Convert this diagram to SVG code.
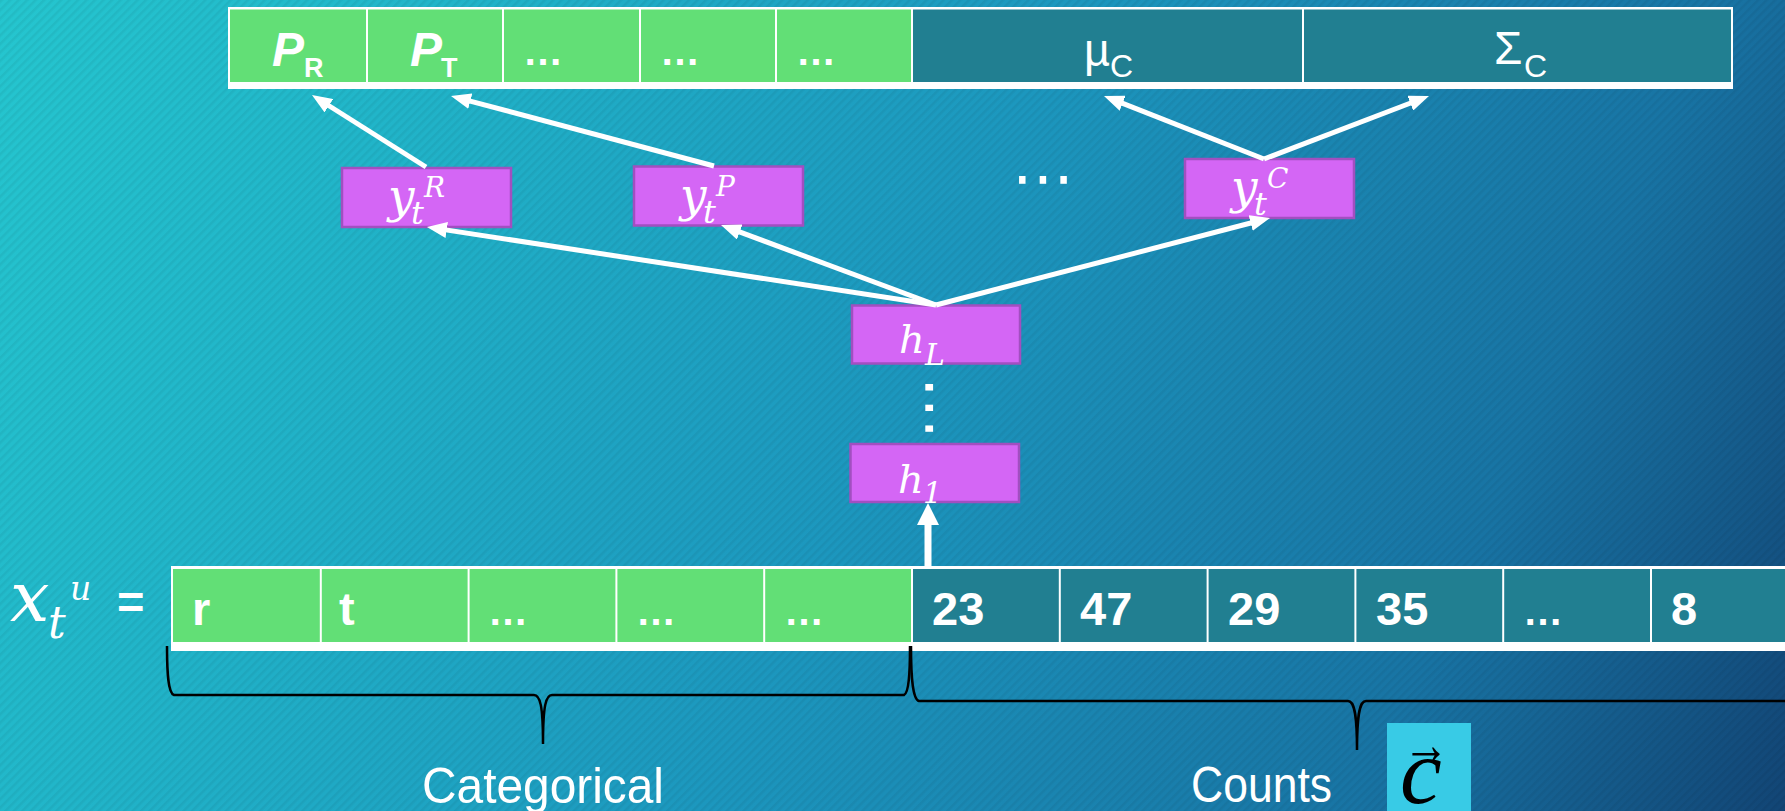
<svg xmlns="http://www.w3.org/2000/svg" width="1785" height="811" viewBox="0 0 1785 811">
  <defs>
    <linearGradient id="bg" gradientUnits="userSpaceOnUse" x1="0" y1="0" x2="1785" y2="811">
      <stop offset="0" stop-color="#25c6cf"/>
      <stop offset="0.2" stop-color="#21b5c9"/>
      <stop offset="0.5" stop-color="#1c97be"/>
      <stop offset="0.8" stop-color="#1874a4"/>
      <stop offset="1" stop-color="#124575"/>
    </linearGradient>
    <pattern id="hatch" width="6" height="6" patternUnits="userSpaceOnUse" patternTransform="rotate(-45)">
      <rect width="6" height="2.5" fill="#000" fill-opacity="0.05"/>
    </pattern>
    <marker id="head" markerUnits="userSpaceOnUse" viewBox="0 0 20 16" refX="6" refY="8" markerWidth="20" markerHeight="16" orient="auto">
      <path d="M0,0 L20,8 L0,16 z" fill="#fff"/>
    </marker>
    <marker id="headBig" markerUnits="userSpaceOnUse" viewBox="0 0 22 22" refX="4" refY="11" markerWidth="22" markerHeight="22" orient="auto">
      <path d="M0,0 L22,11 L0,22 z" fill="#fff"/>
    </marker>
    <style>
      .green { fill: #62df76; }
      .teal { fill: #217f91; }
      .cell { font-family: "Liberation Sans", Arial, sans-serif; font-weight: bold; font-size: 47px; fill: #fff; }
      .dots { font-family: "Liberation Sans", Arial, sans-serif; font-weight: bold; font-size: 40px; fill: #fff; }
      .pbig { font-family: "Liberation Sans", Arial, sans-serif; font-weight: bold; font-style: italic; font-size: 48px; fill: #fff; }
      .psub { font-family: "Liberation Sans", Arial, sans-serif; font-weight: bold; font-size: 27px; fill: #fff; }
      .greek { font-family: "Liberation Sans", Arial, sans-serif; font-size: 46px; fill: #fff; }
      .gsub { font-family: "Liberation Sans", Arial, sans-serif; font-size: 32px; fill: #fff; }
      .node rect { fill: #d466f5; stroke: #a14fc0; stroke-width: 2.5; }
      .m { font-family: "DejaVu Serif", serif; font-style: italic; fill: #fff; }
      .m-h { font-size: 40px; }
      .m-y { font-size: 47px; }
      .m-sub { font-size: 32px; }
      .m-sup { font-size: 28px; }
      .conn { stroke: #fff; stroke-width: 5; fill: none; marker-end: url(#head); }
      .brace { stroke: #000; stroke-width: 2.5; fill: none; }
      .lbl { font-family: "Liberation Sans", Arial, sans-serif; font-size: 50px; fill: #fff; }
      .ell { font-family: "DejaVu Sans", sans-serif; font-size: 62px; fill: #fff; }
      .vec { font-family: "Liberation Serif", "Times New Roman", serif; fill: #000; }
    </style>
  </defs>

  <!-- background -->
  <rect width="1785" height="811" fill="url(#bg)"/>
  <rect width="1785" height="811" fill="url(#hatch)"/>

  <!-- output layer: distribution parameters -->
  <g id="output-vector">
    <rect x="228" y="7" width="1505" height="82" fill="#fff"/>
    <rect class="green" x="230" y="9.5" width="136" height="72.5"/>
    <rect class="green" x="368" y="9.5" width="134" height="72.5"/>
    <rect class="green" x="504" y="9.5" width="135" height="72.5"/>
    <rect class="green" x="641" y="9.5" width="134" height="72.5"/>
    <rect class="green" x="777" y="9.5" width="134" height="72.5"/>
    <rect class="teal" x="913" y="9.5" width="389" height="72.5"/>
    <rect class="teal" x="1304" y="9.5" width="427" height="72.5"/>
    <text class="pbig" x="272" y="66">P</text><text class="psub" x="304" y="77">R</text>
    <text class="pbig" x="410" y="66">P</text><text class="psub" x="441" y="77">T</text>
    <text class="dots" x="523" y="65">…</text>
    <text class="dots" x="660" y="65">…</text>
    <text class="dots" x="796" y="65">…</text>
    <text class="greek" x="1084" y="66" font-size="60" textLength="26" lengthAdjust="spacingAndGlyphs">µ</text><text class="gsub" x="1110" y="77">C</text>
    <text class="greek" x="1494" y="64">Σ</text><text class="gsub" x="1524" y="77">C</text>
  </g>

  <!-- task heads -->
  <g id="y-R" class="node">
    <rect x="342" y="168" width="169" height="59"/>
    <text class="m m-y" x="388" y="212">y</text><text class="m m-sub" x="411" y="224">t</text><text class="m m-sup" x="424" y="197">R</text>
  </g>
  <g id="y-P" class="node">
    <rect x="634" y="166.5" width="169" height="59"/>
    <text class="m m-y" x="680" y="210.5">y</text><text class="m m-sub" x="703" y="222.5">t</text><text class="m m-sup" x="716" y="195.5">P</text>
  </g>
  <g id="y-more">
    <text class="ell" x="1043" y="199" text-anchor="middle">⋯</text>
  </g>
  <g id="y-C" class="node">
    <rect x="1185" y="159" width="169" height="59"/>
    <text class="m m-y" x="1231" y="203">y</text><text class="m m-sub" x="1254" y="215">t</text><text class="m m-sup" x="1267" y="188">C</text>
  </g>

  <!-- hidden layers -->
  <g id="h-L" class="node">
    <rect x="852" y="305.5" width="168" height="58"/>
    <text class="m m-h" x="899" y="353">h</text><text class="m" font-size="30" x="925" y="365">L</text>
  </g>
  <g id="h-more">
    <text class="ell" transform="translate(929.5 408) rotate(90)" x="0" y="20" text-anchor="middle">⋯</text>
  </g>
  <g id="h-1" class="node">
    <rect x="850.5" y="444" width="168.5" height="58"/>
    <text class="m m-h" x="898" y="493">h</text><text class="m" font-size="30" x="923" y="503">1</text>
  </g>

  <!-- input vector -->
  <g id="input-label">
    <text class="m" x="10" y="621" font-size="70">x</text>
    <text class="m" x="48" y="638" font-size="44">t</text>
    <text class="m" x="70" y="600" font-size="33">u</text>
    <text class="cell" x="117" y="618" font-size="58">=</text>
  </g>
  <g id="input-vector">
    <rect x="171" y="566" width="1630" height="85" fill="#fff"/>
    <rect class="green" x="173" y="569" width="146.8" height="73"/>
    <rect class="green" x="321.8" y="569" width="145.8" height="73"/>
    <rect class="green" x="469.6" y="569" width="145.8" height="73"/>
    <rect class="green" x="617.4" y="569" width="145.8" height="73"/>
    <rect class="green" x="765.2" y="569" width="145.8" height="73"/>
    <rect class="teal" x="913" y="569" width="145.8" height="73"/>
    <rect class="teal" x="1060.8" y="569" width="145.8" height="73"/>
    <rect class="teal" x="1208.6" y="569" width="145.8" height="73"/>
    <rect class="teal" x="1356.4" y="569" width="145.8" height="73"/>
    <rect class="teal" x="1504.2" y="569" width="145.8" height="73"/>
    <rect class="teal" x="1652" y="569" width="145.8" height="73"/>
    <text class="cell" x="192" y="625">r</text>
    <text class="cell" x="339" y="625">t</text>
    <text class="dots" x="488" y="625">…</text>
    <text class="dots" x="636" y="625">…</text>
    <text class="dots" x="784" y="625">…</text>
    <text class="cell" x="932" y="625">23</text>
    <text class="cell" x="1080" y="625">47</text>
    <text class="cell" x="1228" y="625">29</text>
    <text class="cell" x="1376" y="625">35</text>
    <text class="dots" x="1523" y="625">…</text>
    <text class="cell" x="1671" y="625">8</text>
  </g>

  <!-- connectors -->
  <g id="connectors">
    <line class="conn" x1="426" y1="167" x2="323.8" y2="102.5"/>
    <line class="conn" x1="714" y1="166" x2="464.5" y2="99.6"/>
    <line class="conn" x1="1264" y1="159" x2="1117" y2="101.1"/>
    <line class="conn" x1="1264" y1="159" x2="1415.9" y2="101"/>
    <line class="conn" x1="936" y1="305" x2="440.8" y2="229.1"/>
    <line class="conn" x1="936" y1="305" x2="734.1" y2="229.9"/>
    <line class="conn" x1="936" y1="305" x2="1256.5" y2="221.5"/>
    <line x1="928" y1="567" x2="928" y2="521" stroke="#fff" stroke-width="7" marker-end="url(#headBig)"/>
  </g>

  <!-- braces and group labels -->
  <g id="categorical">
    <path class="brace" d="M167,646 C167,672 168,693 174,695 L534,695 C540,695 543,705 543,744 C543,705 546,695 552,695 L904,695 C909,693 910,672 910,646"/>
    <text class="lbl" x="422" y="803" textLength="242" lengthAdjust="spacingAndGlyphs">Categorical</text>
  </g>
  <g id="counts">
    <path class="brace" d="M911,646 C911,672 912,699 919,701 L1348,701 C1354,701 1357,712 1357,750 C1357,712 1360,701 1366,701 L1800,701"/>
    <text class="lbl" x="1191" y="802" textLength="141" lengthAdjust="spacingAndGlyphs">Counts</text>
    <rect x="1387" y="723" width="84" height="90" fill="#38cbe6"/>
    <text class="vec" x="1400" y="803" font-style="italic" font-size="94">c</text>
    <text class="vec" x="1403" y="764" font-size="58" textLength="46" lengthAdjust="spacingAndGlyphs">→</text>
  </g>
</svg>
